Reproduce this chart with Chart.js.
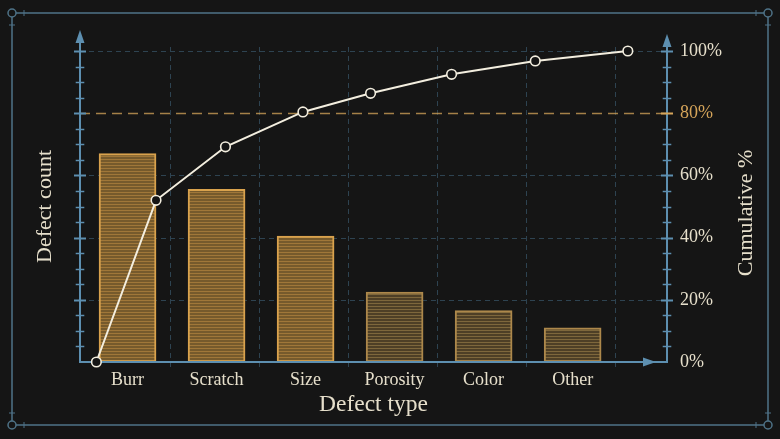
<!DOCTYPE html>
<html><head><meta charset="utf-8">
<script src="https://cdn.jsdelivr.net/npm/chart.js@4.4.1/dist/chart.umd.min.js"></script>
<style>html,body{margin:0;padding:0;background:#151515;}#wrap{width:780px;height:439px;position:relative;}</style>
</head><body><div id="wrap"><canvas id="c" width="780" height="439"></canvas></div>
<script>
const categories = ['Burr', 'Scratch', 'Size', 'Porosity', 'Color', 'Other'];
const defectCounts = [67, 55.5, 40.5, 22.5, 16.5, 11];
const cumulativeX = [0.15, 0.82, 1.60, 2.47, 3.23, 4.14, 5.08, 6.12];
const cumulativePct = [0, 52, 69.2, 80.4, 86.4, 92.5, 96.8, 100];
const pctTicks = [0, 20, 40, 60, 80, 100];
const thresholdPct = 80;

const BG = '#151515', CREAM = '#e6dfcb', LINE = '#f3eedf', ORANGE = '#d6a55a';
const AXIS = '#5d8fb0', FRAME = '#4f7388', GRID = '#2e4351';
const FONT = "'Liberation Serif', 'DejaVu Serif', serif";

const canvas = document.getElementById('c');
const mctx = canvas.getContext('2d');
function stripe(light, dark) {
  const c = document.createElement('canvas'); c.width = 4; c.height = 3;
  const g = c.getContext('2d');
  g.fillStyle = dark; g.fillRect(0, 0, 4, 3);
  g.fillStyle = light; g.fillRect(0, 0, 4, 1);
  return mctx.createPattern(c, 'repeat');
}
const brightFill = stripe('#a07739', '#765a2c');
const mutedFill = stripe('#7e673c', '#4e3f26');

function seg(ctx, x1, y1, x2, y2) { ctx.beginPath(); ctx.moveTo(x1, y1); ctx.lineTo(x2, y2); ctx.stroke(); }
function tri(ctx, pts) { ctx.beginPath(); ctx.moveTo(pts[0], pts[1]); ctx.lineTo(pts[2], pts[3]); ctx.lineTo(pts[4], pts[5]); ctx.closePath(); ctx.fill(); }

const deco = {
  id: 'deco',
  beforeDraw(chart) {
    const { ctx, width, height } = chart;
    ctx.save();
    ctx.fillStyle = BG; ctx.fillRect(0, 0, width, height);
    const L = 12, T = 13, R = 768, B = 425, r = 4;
    ctx.strokeStyle = FRAME; ctx.lineWidth = 1.5;
    seg(ctx, L + r, T, R - r, T); seg(ctx, L + r, B, R - r, B);
    seg(ctx, L, T + r, L, B - r); seg(ctx, R, T + r, R, B - r);
    [[L, T], [R, T], [L, B], [R, B]].forEach(([cx, cy]) => { ctx.beginPath(); ctx.arc(cx, cy, r, 0, Math.PI * 2); ctx.stroke(); });
    ctx.lineWidth = 1;
    seg(ctx, L + 12, T - 3, L + 12, T + 3); seg(ctx, L - 3, T + 12, L + 3, T + 12);
    seg(ctx, R - 12, T - 3, R - 12, T + 3); seg(ctx, R - 3, T + 12, R + 3, T + 12);
    seg(ctx, L + 12, B - 3, L + 12, B + 3); seg(ctx, L - 3, B - 12, L + 3, B - 12);
    seg(ctx, R - 12, B - 3, R - 12, B + 3); seg(ctx, R - 3, B - 12, R + 3, B - 12);
    ctx.restore();
  },
  beforeDatasetsDraw(chart) {
    const { ctx, chartArea: ca } = chart;
    const xs = chart.scales.x, y1 = chart.scales.y1;
    ctx.save();
    ctx.strokeStyle = GRID; ctx.lineWidth = 1; ctx.setLineDash([5, 4]);
    pctTicks.forEach(v => {
      if (v === 0 || v === thresholdPct) return;
      const py = Math.round(y1.getPixelForValue(v)) + 0.5;
      seg(ctx, ca.left, py, ca.right, py);
    });
    for (let i = 1; i <= categories.length; i++) {
      const px = Math.round(xs.getPixelForValue(i - 0.02)) + 0.5;
      seg(ctx, px, y1.getPixelForValue(100) - 4, px, ca.bottom + 6);
    }
    ctx.strokeStyle = 'rgba(214,165,90,0.75)'; ctx.lineWidth = 1.5; ctx.setLineDash([10, 6]);
    const p80 = Math.round(y1.getPixelForValue(thresholdPct)) + 0.5;
    seg(ctx, ca.left, p80, ca.right, p80);
    ctx.restore();
  },
  beforeDatasetDraw(chart, args) {
    if (args.meta.type !== 'line') return;
    const { ctx, chartArea: ca } = chart;
    const ys = chart.scales.y, y1 = chart.scales.y1;
    ctx.save();
    ctx.strokeStyle = AXIS; ctx.fillStyle = AXIS; ctx.lineWidth = 2; ctx.setLineDash([]);
    seg(ctx, ca.left, ca.bottom, ca.left, 40);
    tri(ctx, [ca.left, 30, ca.left - 4.5, 43, ca.left + 4.5, 43]);
    seg(ctx, ca.right, ca.bottom + 1, ca.right, 44);
    tri(ctx, [ca.right, 34, ca.right - 4.5, 47, ca.right + 4.5, 47]);
    seg(ctx, ca.left - 1, ca.bottom, ca.right, ca.bottom);
    tri(ctx, [ca.right - 11, ca.bottom, ca.right - 24, ca.bottom - 4.5, ca.right - 24, ca.bottom + 4.5]);
    for (let v = 5; v <= 100; v += 5) {
      const major = v % 20 === 0;
      const len = major ? 6 : 4.3;
      const py = Math.round(y1.getPixelForValue(v)) + 0.5;
      ctx.strokeStyle = v === thresholdPct ? ORANGE : AXIS;
      ctx.lineWidth = major ? 2 : 1.5;
      seg(ctx, ca.right - len, py, ca.right + len, py);
      const ly = Math.round(ys.getPixelForValue(v)) + 0.5;
      ctx.strokeStyle = AXIS;
      seg(ctx, ca.left - len, ly, ca.left + len, ly);
    }
    ctx.restore();
  },
  afterDraw(chart) {
    const { ctx } = chart;
    ctx.save();
    ctx.translate(746, 213); ctx.rotate(-Math.PI / 2);
    ctx.font = '22px ' + FONT; ctx.fillStyle = CREAM;
    ctx.textAlign = 'center'; ctx.textBaseline = 'middle';
    ctx.fillText('Cumulative %', 0, 0);
    ctx.restore();
  }
};

new Chart(canvas, {
  type: 'bar',
  data: {
    datasets: [
      {
        type: 'bar', label: 'Defect count', yAxisID: 'y', order: 2,
        data: defectCounts.map((v, i) => ({ x: i + 0.5, y: v })),
        backgroundColor: ctx => ctx.dataIndex < 3 ? brightFill : mutedFill,
        borderColor: ctx => ctx.dataIndex < 3 ? '#d9a24d' : '#ad884b',
        borderWidth: 2, borderSkipped: false, barThickness: 57
      },
      {
        type: 'line', label: 'Cumulative %', yAxisID: 'y1', order: 1,
        data: cumulativeX.map((x, i) => ({ x: x, y: cumulativePct[i] })),
        borderColor: LINE, borderWidth: 2, tension: 0, clip: false,
        pointRadius: 4.8, pointBorderWidth: 1.6, pointBackgroundColor: BG, pointBorderColor: LINE
      }
    ]
  },
  options: {
    responsive: false, animation: false, devicePixelRatio: 1,
    layout: { padding: { top: 51, left: 0, right: 0, bottom: 0 } },
    plugins: { legend: { display: false }, tooltip: { enabled: false } },
    scales: {
      x: {
        type: 'linear', min: -0.034, max: 6.56, offset: false,
        grid: { display: false, drawTicks: false, offset: false }, border: { display: false },
        afterBuildTicks: s => { s.ticks = categories.map((_, i) => ({ value: i + 0.5 })); },
        afterFit: s => { s.height = 77; },
        ticks: {
          autoSkip: false, maxRotation: 0, minRotation: 0, padding: 7,
          color: CREAM, font: { family: FONT, size: 18 },
          callback: (v, i) => categories[i]
        },
        title: { display: true, text: 'Defect type', color: CREAM, font: { family: FONT, size: 23.5 }, padding: { top: 0, bottom: 20 } }
      },
      y: {
        type: 'linear', position: 'left', min: 0, max: 100,
        grid: { display: false, drawTicks: false }, border: { display: false },
        ticks: { display: false },
        afterFit: s => { s.width = 80; },
        title: { display: true, text: 'Defect count', color: CREAM, font: { family: FONT, size: 22 }, padding: { top: 32, bottom: 0 } }
      },
      y1: {
        type: 'linear', position: 'right', min: 0, max: 100,
        grid: { display: false, drawTicks: false }, border: { display: false },
        afterBuildTicks: s => { s.ticks = pctTicks.map(v => ({ value: v })); },
        afterFit: s => { s.width = 113; },
        ticks: {
          padding: 13, font: { family: FONT, size: 18 },
          color: ctx => ctx.tick && ctx.tick.value === thresholdPct ? ORANGE : CREAM,
          callback: v => v + '%'
        }
      }
    }
  },
  plugins: [deco]
});
</script>
</body></html>
